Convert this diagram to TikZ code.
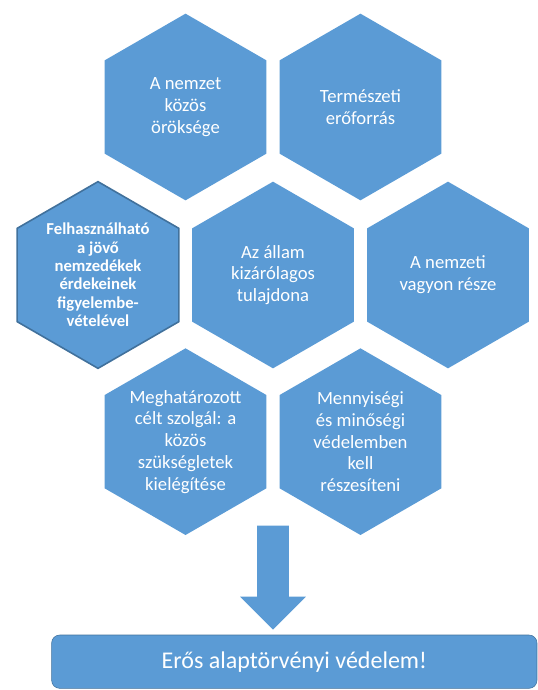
\documentclass[tikz,border=0pt]{standalone}
\usepackage{fontspec}
\setmainfont{Carlito}
\usetikzlibrary{shapes,arrows,positioning}

\definecolor{hexblue}{HTML}{5B9BD5}
\definecolor{hexedge}{HTML}{41719C}

\begin{document}
\begin{tikzpicture}[
    on grid,
    hexa/.style={regular polygon, regular polygon sides=6, shape border rotate=30, minimum size=140pt, inner sep=0pt, align=center, fill=hexblue, text=white, font=\fontsize{14}{16.3}\selectfont},
    framed/.style={draw=hexedge, line width=1.2pt, font=\bfseries\fontsize{12.5}{13.8}\selectfont},
    downarrow/.style={single arrow, rotate=-90, fill=hexblue, minimum height=78pt, minimum width=49pt, single arrow head extend=12.75pt, inner xsep=0pt, inner ysep=11.75pt},
    banner/.style={rectangle, rounded corners=6pt, draw=hexedge, line width=0.4pt, fill=hexblue, text=white, minimum width=364pt, minimum height=40pt, font=\fontsize{18}{20}\selectfont}
]
\useasboundingbox (-204.75pt,-311.25pt) rectangle (198.75pt,206.25pt);

% Middle row
\node[hexa] (allam) {Az állam\\kizárólagos\\tulajdona};
\node[hexa, framed, left=131.25pt of allam] (jovo) {Felhasználható\\a jövő\\nemzedékek\\érdekeinek\\figyelembe-\\vételével};
\node[hexa, right=131.25pt of allam] (vagyon) {A nemzeti\\vagyon része};

% Top row
\node[hexa, above left=126pt and 65.6pt of allam] (orokseg) {A nemzet\\közös\\öröksége};
\node[hexa, above right=126pt and 65.6pt of allam] (eroforras) {Természeti\\erőforrás};

% Bottom row
\node[hexa, below left=125pt and 65.6pt of allam] (szukseglet) {Meghatározott\\célt szolgál: a\\közös\\szükségletek\\kielégítése};
\node[hexa, below right=125pt and 65.6pt of allam] (minoseg) {Mennyiségi\\és minőségi\\védelemben\\kell\\részesíteni};

% Arrow and result
\node[downarrow, below=221pt of allam] (lefele) {};
\node[banner, below right=290pt and 16pt of allam] (vedelem) {Erős alaptörvényi védelem!};

\end{tikzpicture}
\end{document}
